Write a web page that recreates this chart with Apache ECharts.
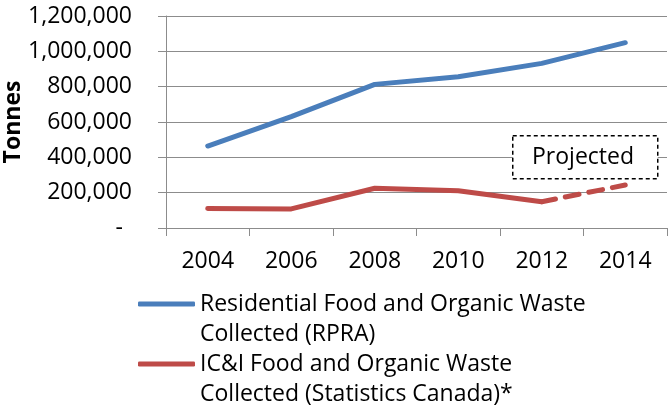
<!DOCTYPE html>
<html>
<head>
<meta charset="utf-8">
<script src="https://cdn.jsdelivr.net/npm/echarts@6/dist/echarts.min.js"></script>
<style>
  html, body { margin: 0; padding: 0; background: #fff; }
  #chart { width: 670px; height: 412px; }
</style>
</head>
<body>
<div id="chart"></div>
<script>
// categories (every other year)
const years = ['2004', '2006', '2008', '2010', '2012', '2014']

// tonnes
const residential = [464000, 630000, 813000, 856000, 932000, 1049000]
const iciActual = [111000, 108000, 225000, 211000, 149000, null]
const iciProjected = [null, null, null, null, 149000, 243000]

const residentialName = 'Residential Food and Organic Waste\nCollected (RPRA)'
const iciName = 'IC&I Food and Organic Waste\nCollected (Statistics Canada)*'

const BLUE = '#4A7EBB'
const RED = '#BE4B48'
const GRID_GRAY = '#8C8C8C'
const FONT = '"Open Sans", "Noto Sans", sans-serif'

const chart = echarts.init(document.getElementById('chart'))

chart.setOption({
  animation: false,
  textStyle: {fontFamily: FONT},
  grid: {left: 166, right: 3, top: 16, bottom: 184, outerBoundsMode: 'none', containLabel: false},
  xAxis: {
    type: 'category',
    data: years,
    boundaryGap: true,
    axisLine: {lineStyle: {color: GRID_GRAY, width: 1}},
    axisTick: {show: true, length: 8, lineStyle: {color: GRID_GRAY}},
    axisLabel: {color: '#000', fontSize: 23, margin: 22, fontFamily: FONT}
  },
  yAxis: {
    type: 'value',
    min: 0,
    max: 1200000,
    interval: 200000,
    name: 'Tonnes',
    nameLocation: 'middle',
    nameRotate: 90,
    nameGap: 141,
    nameMoveOverlap: false,
    nameTextStyle: {color: '#000', fontSize: 23, fontWeight: 'bold', fontFamily: FONT},
    axisLine: {show: true, lineStyle: {color: GRID_GRAY, width: 1}},
    axisTick: {show: true, length: 8, lineStyle: {color: GRID_GRAY}},
    splitLine: {lineStyle: {color: GRID_GRAY, width: 1}},
    axisLabel: {
      color: '#000',
      fontSize: 23,
      margin: 34,
      fontFamily: FONT,
      formatter: v => v === 0 ? '{z|-}' : v.toLocaleString('en-US'),
      rich: {z: {fontSize: 23, fontFamily: FONT, color: '#000', padding: [0, 9, 0, 0]}}
    }
  },
  legend: {
    orient: 'vertical',
    left: 138,
    top: 259,
    padding: 0,
    itemGap: -30,
    itemWidth: 57,
    itemHeight: 5,
    icon: 'roundRect',
    data: [residentialName, iciName],
    // leading blank line so the icon sits beside the first text line
    formatter: name => '\n' + name,
    textStyle: {color: '#000', fontSize: 23, lineHeight: 30, fontFamily: FONT}
  },
  series: [
    {
      name: residentialName,
      type: 'line',
      data: residential,
      symbol: 'none',
      color: BLUE,
      lineStyle: {width: 5, color: BLUE, cap: 'round', join: 'round'}
    },
    {
      name: iciName,
      type: 'line',
      data: iciActual,
      symbol: 'none',
      color: RED,
      lineStyle: {width: 5, color: RED, cap: 'round', join: 'round'}
    },
    {
      name: 'Projected',
      type: 'line',
      data: iciProjected,
      symbol: 'none',
      color: RED,
      lineStyle: {width: 5, color: RED, type: [14, 10], cap: 'round'}
    }
  ],
  graphic: [
    {
      type: 'rect',
      left: 512,
      top: 135,
      shape: {width: 145, height: 43},
      style: {fill: '#fff', stroke: '#000', lineWidth: 1.5, lineDash: [4, 3]},
      z: 10
    },
    {
      type: 'text',
      left: 532,
      top: 146,
      style: {text: 'Projected', font: '23px ' + FONT, fill: '#000'},
      z: 11
    }
  ]
})
</script>
</body>
</html>
